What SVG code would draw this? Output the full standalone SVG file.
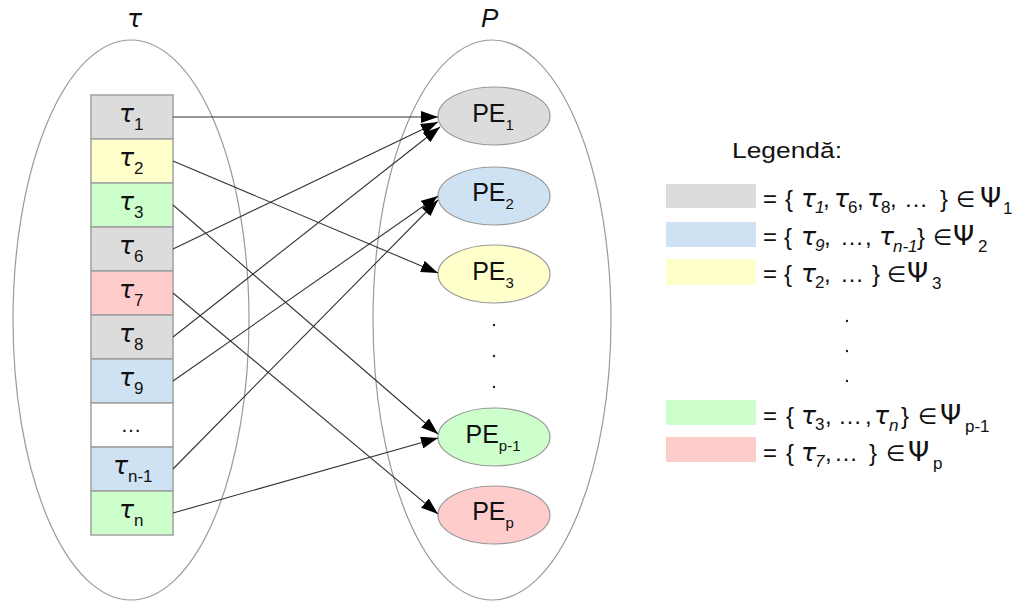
<svg xmlns="http://www.w3.org/2000/svg" width="1018" height="602" viewBox="0 0 1018 602">
<defs>
<style>
.set{fill:none;stroke:#9a9a9a;stroke-width:1.2}
.box{stroke:#a0a0a0;stroke-width:1.5}
.pe{stroke:#9a9a9a;stroke-width:1.2}
.gray{fill:#dcdcdc}.yel{fill:#ffffcc}.grn{fill:#ccffcc}.red{fill:#ffcccc}.blu{fill:#cfe2f3}.wht{fill:#ffffff}
text{font-family:"Liberation Sans",Arial,sans-serif;fill:#111}
.tau{font-family:"DejaVu Sans",sans-serif;font-style:italic;font-weight:normal;font-size:25px}
.sub{font-family:"Liberation Sans",Arial,sans-serif;font-size:17px;font-style:normal;font-weight:normal}
.it{font-style:italic}
.pet{font-size:25px;text-anchor:middle}
.pesub{font-size:15px}
.lg{font-size:24px}
.psi{font-family:"DejaVu Sans",sans-serif;font-size:27px}
.elem{font-family:"DejaVu Sans",sans-serif;font-size:22px}
.conn line{stroke:#333;stroke-width:1.1}
</style>
<marker id="ah" markerUnits="userSpaceOnUse" markerWidth="18" markerHeight="12" refX="17" refY="6" orient="auto">
<path d="M0,0 L17,6 L0,12 z" fill="#000"/>
</marker>
</defs>
<rect width="1018" height="602" fill="#fff"/>

<g id="setT">
<ellipse class="set" cx="131" cy="320" rx="118" ry="280"/>
<text x="127" y="27" class="tau">τ</text>
</g>
<g id="setP">
<ellipse class="set" cx="492" cy="320" rx="119" ry="280"/>
<text x="481" y="27" class="it" font-size="26">P</text>
<circle cx="494" cy="325" r="1.2" fill="#222"/>
<circle cx="494" cy="356" r="1.2" fill="#222"/>
<circle cx="494" cy="387" r="1.2" fill="#222"/>
</g>

<g id="t1"><rect class="box gray" x="91" y="95" width="82" height="44"/><text y="122"><tspan class="tau" x="119">τ</tspan><tspan class="sub" x="134" y="130">1</tspan></text></g>
<g id="t2"><rect class="box yel" x="91" y="139" width="82" height="44"/><text y="166"><tspan class="tau" x="119">τ</tspan><tspan class="sub" x="134" y="174">2</tspan></text></g>
<g id="t3"><rect class="box grn" x="91" y="183" width="82" height="44"/><text y="210"><tspan class="tau" x="119">τ</tspan><tspan class="sub" x="134" y="218">3</tspan></text></g>
<g id="t6"><rect class="box gray" x="91" y="227" width="82" height="44"/><text y="254"><tspan class="tau" x="119">τ</tspan><tspan class="sub" x="134" y="262">6</tspan></text></g>
<g id="t7"><rect class="box red" x="91" y="271" width="82" height="44"/><text y="298"><tspan class="tau" x="119">τ</tspan><tspan class="sub" x="134" y="306">7</tspan></text></g>
<g id="t8"><rect class="box gray" x="91" y="315" width="82" height="44"/><text y="342"><tspan class="tau" x="119">τ</tspan><tspan class="sub" x="134" y="350">8</tspan></text></g>
<g id="t9"><rect class="box blu" x="91" y="359" width="82" height="44"/><text y="386"><tspan class="tau" x="119">τ</tspan><tspan class="sub" x="134" y="394">9</tspan></text></g>
<g id="tdots"><rect class="box wht" x="91" y="403" width="82" height="44"/><text x="131" y="432" text-anchor="middle" font-size="21">…</text></g>
<g id="tn1"><rect class="box blu" x="91" y="447" width="82" height="44"/><text y="474"><tspan class="tau" x="113">τ</tspan><tspan class="sub" x="128" y="482">n-1</tspan></text></g>
<g id="tn"><rect class="box grn" x="91" y="491" width="82" height="44"/><text y="518"><tspan class="tau" x="119">τ</tspan><tspan class="sub" x="134" y="526">n</tspan></text></g>

<g id="pe1"><ellipse class="pe gray" cx="494" cy="116" rx="56" ry="29"/><text x="493" y="122" class="pet">PE<tspan class="pesub" dy="8">1</tspan></text></g>
<g id="pe2"><ellipse class="pe blu" cx="494" cy="196" rx="56" ry="29"/><text x="493" y="201" class="pet">PE<tspan class="pesub" dy="8">2</tspan></text></g>
<g id="pe3"><ellipse class="pe yel" cx="494" cy="274" rx="56" ry="29"/><text x="493" y="280" class="pet">PE<tspan class="pesub" dy="8">3</tspan></text></g>
<g id="pep1"><ellipse class="pe grn" cx="494" cy="437" rx="56" ry="29"/><text x="493" y="443" class="pet">PE<tspan class="pesub" dy="8">p-1</tspan></text></g>
<g id="pep"><ellipse class="pe red" cx="494" cy="515" rx="56" ry="29"/><text x="493" y="520" class="pet">PE<tspan class="pesub" dy="8">p</tspan></text></g>

<g id="connectors" class="conn">
<line x1="173" y1="117" x2="438" y2="117" marker-end="url(#ah)"/>
<line x1="173" y1="161" x2="438" y2="273" marker-end="url(#ah)"/>
<line x1="173" y1="205" x2="438" y2="434" marker-end="url(#ah)"/>
<line x1="173" y1="249" x2="438" y2="122" marker-end="url(#ah)"/>
<line x1="173" y1="293" x2="438" y2="514" marker-end="url(#ah)"/>
<line x1="173" y1="337" x2="440" y2="127" marker-end="url(#ah)"/>
<line x1="173" y1="381" x2="438" y2="196" marker-end="url(#ah)"/>
<line x1="173" y1="469" x2="438" y2="200" marker-end="url(#ah)"/>
<line x1="173" y1="513" x2="438" y2="438" marker-end="url(#ah)"/>
</g>

<g id="legend">
<text x="732" y="158" font-size="22" textLength="110" lengthAdjust="spacingAndGlyphs">Legendă:</text>
<rect class="gray" x="666" y="184" width="90" height="24"/>
<rect class="blu" x="666" y="222" width="90" height="25"/>
<rect class="yel" x="666" y="259" width="90" height="26"/>
<rect class="grn" x="666" y="400" width="90" height="25"/>
<rect class="red" x="666" y="437" width="90" height="25"/>

<text class="lg" y="207"><tspan x="763">=</tspan><tspan x="785">{</tspan><tspan class="tau" x="801">τ</tspan><tspan class="sub it" x="815" y="213">1</tspan><tspan x="823" y="207">,</tspan><tspan class="tau" x="834">τ</tspan><tspan class="sub" x="848" y="213">6</tspan><tspan x="857" y="207">,</tspan><tspan class="tau" x="867">τ</tspan><tspan class="sub" x="881" y="213">8</tspan><tspan x="890" y="207">,</tspan><tspan x="904">…</tspan><tspan x="940">}</tspan><tspan class="elem" x="956">∈</tspan><tspan class="psi" x="980">Ψ</tspan><tspan class="sub" x="1003" y="214">1</tspan></text>

<text class="lg" y="245"><tspan x="763">=</tspan><tspan x="784">{</tspan><tspan class="tau" x="801">τ</tspan><tspan class="sub it" x="815" y="251">9</tspan><tspan x="824" y="245">,</tspan><tspan x="840">…</tspan><tspan x="865">,</tspan><tspan class="tau" x="879">τ</tspan><tspan class="sub it" x="893" y="252">n-1</tspan><tspan x="917" y="245">}</tspan><tspan class="elem" x="933">∈</tspan><tspan class="psi" x="953">Ψ</tspan><tspan class="sub" x="978" y="252">2</tspan></text>

<text class="lg" y="282"><tspan x="763">=</tspan><tspan x="784">{</tspan><tspan class="tau" x="801">τ</tspan><tspan class="sub" x="815" y="288">2</tspan><tspan x="824" y="282">,</tspan><tspan x="840">…</tspan><tspan x="872">}</tspan><tspan class="elem" x="887">∈</tspan><tspan class="psi" x="907">Ψ</tspan><tspan class="sub" x="932" y="289">3</tspan></text>

<circle cx="847" cy="321" r="1.2" fill="#222"/>
<circle cx="847" cy="351" r="1.2" fill="#222"/>
<circle cx="847" cy="381" r="1.2" fill="#222"/>

<text class="lg" y="424"><tspan x="763">=</tspan><tspan x="786">{</tspan><tspan class="tau" x="801">τ</tspan><tspan class="sub" x="815" y="430">3</tspan><tspan x="825" y="424">,</tspan><tspan x="838">…</tspan><tspan x="865">,</tspan><tspan class="tau" x="874">τ</tspan><tspan class="sub it" x="889" y="431">n</tspan><tspan x="901" y="424">}</tspan><tspan class="elem" x="918">∈</tspan><tspan class="psi" x="940">Ψ</tspan><tspan class="sub" x="965" y="432">p-1</tspan></text>

<text class="lg" y="461"><tspan x="763">=</tspan><tspan x="786">{</tspan><tspan class="tau" x="801">τ</tspan><tspan class="sub it" x="815" y="467">7</tspan><tspan x="825" y="461">,</tspan><tspan x="834">…</tspan><tspan x="869">}</tspan><tspan class="elem" x="886">∈</tspan><tspan class="psi" x="908">Ψ</tspan><tspan class="sub" x="933" y="469">p</tspan></text>
</g>
</svg>
